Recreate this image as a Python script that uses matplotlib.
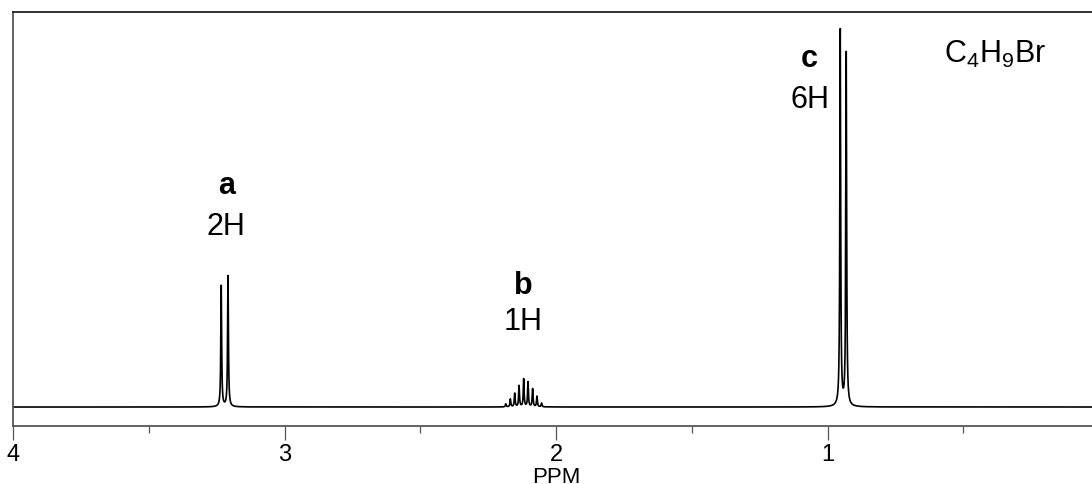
import numpy as np
import matplotlib
matplotlib.use("Agg")
import matplotlib.pyplot as plt
from matplotlib.ticker import MultipleLocator

plt.rcParams['font.family'] = ['Liberation Sans', 'DejaVu Sans']
plt.rcParams['mathtext.fontset'] = 'custom'
plt.rcParams['mathtext.rm'] = 'Liberation Sans'

# --- peak list (ppm, relative height) ---
peak_a_ppm = [3.233, 3.208]
peak_a_height = [32.2, 34.8]

peak_b_ppm = [2.185, 2.168, 2.152, 2.136, 2.119, 2.103, 2.086, 2.070, 2.053]
peak_b_height = [0.8, 2.1, 3.6, 5.6, 7.4, 6.6, 4.8, 2.8, 1.0]

peak_c_ppm = [0.953, 0.931]
peak_c_height = [100.0, 93.9]

labels = [('a', '2H'), ('b', '1H'), ('c', '6H')]
label_ppm = [3.215, 2.122, 1.066]
label_y = [(56.9, 46.0), (30.3, 20.7), (90.7, 79.8)]
formula = r'C$_\mathregular{4}$H$_\mathregular{9}$Br'

xticks_major = [4, 3, 2, 1, 0]

# --- build trace from Lorentzian lines ---
ppm = np.linspace(0, 4, 40001)
width = 0.0018
spec = np.zeros_like(ppm)
for pos, h in zip(peak_a_ppm + peak_b_ppm + peak_c_ppm,
                  peak_a_height + peak_b_height + peak_c_height):
    spec += h * width**2 / ((ppm - pos)**2 + width**2)

fig = plt.figure(figsize=(10.92, 4.85), dpi=100)
ax = fig.add_axes([13 / 1092, 1 - 427 / 485, 1086 / 1092, 414 / 485])
ax.plot(ppm, spec, color='black', lw=1.2)

ax.set_xlim(4, 0)
ax.set_ylim(-5.05, 105.05)
ax.set_yticks([])
ax.set_xticks(xticks_major)
ax.xaxis.set_minor_locator(MultipleLocator(0.5))
ax.tick_params(axis='x', which='major', length=10, width=0.9, color='#555555',
               direction='out', pad=2, labelsize=17)
ax.tick_params(axis='x', which='minor', length=5, width=0.9, color='#555555',
               direction='out')
for side in ['left', 'bottom']:
    ax.spines[side].set_color('#555555')
    ax.spines[side].set_linewidth(1.3)
ax.spines['top'].set_color('#222222')
ax.spines['top'].set_linewidth(1.3)
ax.spines['right'].set_visible(False)
ax.set_xlabel('PPM', fontsize=16, labelpad=1)

for (lt, nh), x, (y1, y2) in zip(labels, label_ppm, label_y):
    ax.text(x, y1, lt, ha='center', va='baseline', fontsize=22, fontweight='bold')
    ax.text(x, y2, nh, ha='center', va='baseline', fontsize=22)

ax.text(0.383, 91.8, formula, ha='center', va='baseline', fontsize=22)

fig.savefig('out.png', dpi=100)
